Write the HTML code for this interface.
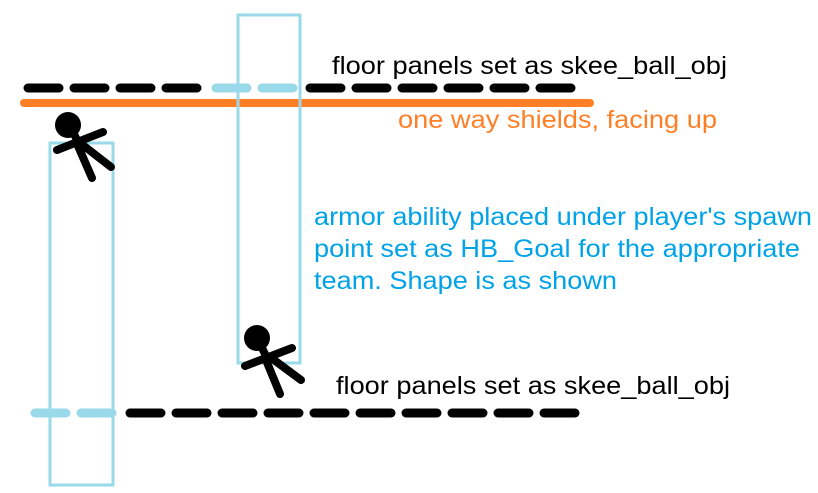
<!DOCTYPE html>
<html><head><meta charset="utf-8"><style>
html,body{margin:0;padding:0;background:#fff;}
svg{display:block;}
text{font-family:"Liberation Sans",Arial,sans-serif;}
</style></head><body>
<svg width="818" height="493" viewBox="0 0 818 493" xmlns="http://www.w3.org/2000/svg">
<g stroke-linecap="round" stroke-width="9">
<line x1="28" y1="88" x2="200" y2="88" stroke="#000" stroke-dasharray="31 15"/>
<line x1="216" y1="88" x2="294" y2="88" stroke="#99d9ea" stroke-dasharray="31 15"/>
<line x1="310" y1="88" x2="578" y2="88" stroke="#000" stroke-dasharray="31 15"/>
<line x1="24" y1="103" x2="590" y2="103" stroke="#ff7f27" stroke-width="8"/>
<line x1="35" y1="413" x2="112" y2="413" stroke="#99d9ea" stroke-dasharray="31 15"/>
<line x1="130" y1="413" x2="584" y2="413" stroke="#000" stroke-dasharray="31 15"/>
</g>
<rect x="50" y="143" width="63" height="342" fill="none" stroke="#99d9ea" stroke-width="3"/>
<rect x="238" y="15" width="62" height="348" fill="none" stroke="#99d9ea" stroke-width="3"/>
<g stroke="#000" stroke-width="8" stroke-linecap="round">
<circle cx="68" cy="125" r="13" fill="#000" stroke="none"/>
<line x1="72" y1="130" x2="80" y2="146"/>
<line x1="57" y1="150" x2="103" y2="132"/>
<line x1="78" y1="146" x2="92" y2="178"/>
<line x1="84" y1="146" x2="111" y2="167"/>
<circle cx="257" cy="338" r="13" fill="#000" stroke="none"/>
<line x1="260" y1="344" x2="268" y2="360"/>
<line x1="245" y1="366" x2="292" y2="348"/>
<line x1="266" y1="360" x2="280" y2="394"/>
<line x1="274" y1="360" x2="301" y2="380"/>
</g>
<text x="332" y="74" font-size="25" fill="#000" textLength="395" lengthAdjust="spacingAndGlyphs">floor panels set as skee_ball_obj</text>
<text x="398" y="128" font-size="25" fill="#ff7f27" textLength="319" lengthAdjust="spacingAndGlyphs">one way shields, facing up</text>
<text x="314" y="225" font-size="25" fill="#00a2e8" textLength="498" lengthAdjust="spacingAndGlyphs">armor ability placed under player's spawn</text>
<text x="314" y="257" font-size="25" fill="#00a2e8" textLength="486" lengthAdjust="spacingAndGlyphs">point set as HB_Goal for the appropriate</text>
<text x="314" y="289" font-size="25" fill="#00a2e8" textLength="303" lengthAdjust="spacingAndGlyphs">team. Shape is as shown</text>
<text x="336" y="394" font-size="25" fill="#000" textLength="394" lengthAdjust="spacingAndGlyphs">floor panels set as skee_ball_obj</text>
</svg>
</body></html>
